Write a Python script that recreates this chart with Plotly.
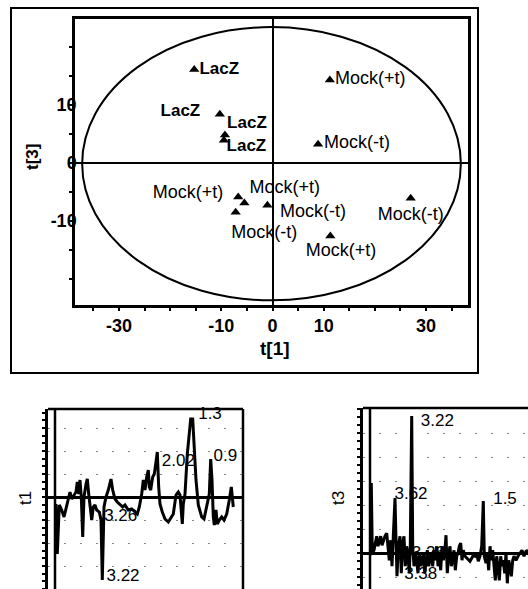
import plotly.graph_objects as go

# ---------------- Score plot data (t[1] vs t[3]) ----------------
score_t1 = [-15.3, -10.3, -9.3, -9.5, 11.2, 8.9, -6.7, -5.5, -7.2, -1.0, 27.0, 11.3]
score_t3 = [16.1, 8.4, 4.8, 3.9, 14.3, 3.2, -5.9, -6.9, -8.5, -7.3, -6.1, -12.6]

lacz_labels = ["LacZ", "LacZ", "LacZ", "LacZ"]
lacz_label_t1 = [-10.4, -18.0, -5.0, -5.1]
lacz_label_t3 = [16.1, 8.8, 6.8, 2.8]

mock_labels = ["Mock(+t)", "Mock(-t)", "Mock(+t)", "Mock(+t)", "Mock(-t)", "Mock(-t)", "Mock(-t)", "Mock(+t)"]
mock_label_t1 = [19.1, 16.5, -16.5, 2.4, 7.9, 27.0, -1.6, 13.4]
mock_label_t3 = [14.3, 3.3, -5.2, -4.5, -8.6, -9.0, -12.2, -15.2]

# Hotelling ellipse extent
ell_t1 = [-37.2, 36.8]
ell_t3 = [-23.7, 23.4]

x_tickvals = list(range(-35, 40, 5))
x_ticktext = ["-30" if v == -30 else "-10" if v == -10 else "0" if v == 0 else "10" if v == 10 else "30" if v == 30 else "" for v in x_tickvals]
y_tickvals = list(range(-20, 25, 5))
y_ticktext = ["10" if v == 10 else "0" if v == 0 else "-10" if v == -10 else "" for v in y_tickvals]

# ---------------- Loading line t1 ----------------
p1_var = [1.0, 2.3, 4.3, 6.7, 9.0, 11.0, 13.3, 15.0, 16.7, 19.0, 21.0, 22.3, 23.7, 25.0, 26.3, 27.7, 29.0,
          31.0, 32.3, 33.7, 35.0, 36.7, 38.3, 40.0, 41.7, 44.3, 46.0, 47.3, 49.0, 51.0, 53.3, 56.0, 57.7,
          60.0, 62.3, 65.0, 67.7, 70.0, 73.3, 76.7, 80.0, 82.3, 84.3, 86.7, 88.3, 90.0, 91.7, 93.3, 94.3,
          95.7, 97.7, 99.3, 101.0, 102.3, 103.7, 105.0, 107.3, 110.0, 113.3, 116.7, 118.3, 121.0, 123.3,
          125.0, 127.3, 128.3, 130.0, 132.3, 134.3, 135.7, 137.7, 139.3, 141.0, 143.3, 146.7, 149.0, 151.7,
          154.3, 155.7, 157.0, 158.3, 159.3, 161.0, 162.3, 164.3, 166.7, 169.0, 171.7, 174.3, 176.3, 178.3]
p1_load = [-0.07, -0.57, -0.08, -0.13, -0.20, -0.12, -0.03, 0.05, -0.02, 0.02, 0.05, 0.15, 0.03, 0.17, 0.0,
           -0.40, 0.0, 0.13, 0.18, 0.03, -0.10, -0.23, -0.10, -0.08, -0.13, -0.15, -0.23, -0.83, -0.10, 0.0,
           0.07, 0.18, 0.07, -0.02, -0.05, -0.08, -0.10, -0.08, -0.13, -0.12, -0.15, -0.17, -0.10, 0.03,
           0.17, 0.07, 0.20, 0.27, 0.10, 0.07, 0.20, 0.23, 0.35, 0.45, 0.10, -0.07, -0.15, -0.22, -0.25,
           -0.20, -0.17, 0.02, 0.05, 0.02, -0.27, -0.07, 0.03, 0.43, 0.67, 0.78, 0.78, 0.50, 0.17, -0.08,
           -0.20, -0.22, -0.10, 0.03, 0.38, 0.17, -0.20, -0.28, -0.13, -0.27, -0.23, -0.20, -0.23, -0.17,
           -0.03, 0.10, -0.10]
p1_peak_labels = ["1.3", "2.02", "0.9", "3.26", "3.22"]
p1_peak_var = [155.0, 123.3, 170.3, 65.7, 68.0]
p1_peak_load = [0.82, 0.353, 0.403, -0.197, -0.797]

# ---------------- Loading line t3 ----------------
p3_var = [0.7, 1.3, 2.3, 4.0, 5.3, 6.7, 8.0, 9.3, 10.7, 12.0, 13.3, 15.0, 16.7, 18.0, 19.3, 20.7, 22.0, 23.3,
          25.0, 26.0, 27.0, 28.3, 30.0, 31.3, 32.7, 34.0, 35.3, 36.7, 38.0, 39.3, 40.3, 41.7, 42.7, 44.0,
          45.3, 46.7, 48.0, 49.3, 50.7, 52.0, 53.3, 54.7, 56.0, 57.3, 58.7, 60.0, 61.3, 62.7, 64.0, 65.3,
          66.7, 68.0, 69.3, 70.7, 72.0, 73.3, 74.7, 76.0, 77.3, 78.7, 80.0, 81.3, 82.7, 84.0, 85.3, 86.7,
          88.0, 89.3, 90.7, 92.0, 93.3, 95.0, 96.7, 98.3, 100.0, 101.7, 103.3, 105.0, 106.7, 108.3, 110.0,
          111.7, 113.3, 114.3, 116.0, 117.3, 118.7, 120.0, 121.3, 122.7, 124.0, 125.3, 126.7, 128.0, 129.3,
          130.7, 132.0, 133.3, 134.7, 136.0, 137.3, 138.7, 140.0, 141.3, 142.7, 144.0, 146.0, 148.0, 150.0,
          152.0, 154.0, 156.0, 158.0]
p3_load = [-0.02, 0.70, 0.0, 0.03, 0.10, 0.17, 0.07, 0.13, 0.17, 0.08, 0.13, 0.17, 0.20, 0.07, -0.07, 0.13,
           -0.13, 0.17, 0.55, 0.13, -0.23, 0.07, 0.17, -0.20, 0.10, 0.17, -0.13, 0.07, -0.03, -0.20, 0.07,
           1.37, 0.07, -0.13, 0.0, -0.07, -0.20, 0.0, -0.13, -0.07, 0.0, -0.20, -0.07, 0.03, -0.13, -0.07,
           0.0, -0.13, 0.03, -0.07, 0.07, -0.13, 0.0, -0.17, 0.07, -0.07, 0.0, 0.18, -0.20, 0.0, 0.07,
           -0.13, -0.07, 0.03, -0.17, -0.03, 0.0, 0.07, 0.10, -0.07, 0.03, -0.03, -0.05, -0.07, -0.08,
           -0.05, -0.02, -0.03, 0.0, -0.08, -0.03, 0.07, 0.52, -0.03, -0.10, 0.0, -0.17, 0.07, -0.07, 0.03,
           -0.10, -0.27, -0.03, -0.13, -0.27, -0.03, -0.13, -0.07, -0.20, 0.0, -0.30, -0.07, -0.13, -0.23,
           -0.07, -0.03, -0.07, -0.03, 0.0, 0.03, -0.03, 0.02, 0.03]
p3_peak_labels = ["3.22", "3.62", "1.5", "3.26", "3.38"]
p3_peak_var = [67.3, 41.0, 135.0, 58.3, 50.7]
p3_peak_load = [1.316, 0.583, 0.533, -0.007, -0.217]

W, H = 528, 589
FONT = "Liberation Sans"
BLACK = "black"

fig = go.Figure()

# score plot
fig.add_trace(go.Scatter(x=score_t1, y=score_t3, mode="markers",
                         marker=dict(symbol="triangle-up", size=9, color=BLACK),
                         xaxis="x", yaxis="y", cliponaxis=False))
fig.add_trace(go.Scatter(x=lacz_label_t1, y=lacz_label_t3, mode="text", text=lacz_labels,
                         textposition="middle center",
                         textfont=dict(family=FONT, size=17, color=BLACK, weight="bold"),
                         xaxis="x", yaxis="y"))
fig.add_trace(go.Scatter(x=mock_label_t1, y=mock_label_t3, mode="text", text=mock_labels,
                         textposition="middle center",
                         textfont=dict(family=FONT, size=18, color=BLACK),
                         xaxis="x", yaxis="y"))

# loading lines
fig.add_trace(go.Scatter(x=p1_var, y=p1_load, mode="lines", line=dict(color=BLACK, width=3),
                         xaxis="x2", yaxis="y2"))
fig.add_trace(go.Scatter(x=p1_peak_var, y=p1_peak_load, mode="text", text=p1_peak_labels,
                         textfont=dict(family=FONT, size=17, color=BLACK),
                         xaxis="x2", yaxis="y2", cliponaxis=False))
fig.add_trace(go.Scatter(x=p3_var, y=p3_load, mode="lines", line=dict(color=BLACK, width=3),
                         xaxis="x3", yaxis="y3"))
fig.add_trace(go.Scatter(x=p3_peak_var, y=p3_peak_load, mode="text", text=p3_peak_labels,
                         textfont=dict(family=FONT, size=17, color=BLACK),
                         xaxis="x3", yaxis="y3", cliponaxis=False))

tickfont_bold = dict(family=FONT, size=18, color=BLACK, weight="bold")

small_axis_y = dict(showline=True, linewidth=2.5, linecolor=BLACK, ticks="outside", ticklen=3,
                    tickwidth=2, tickcolor=BLACK, showticklabels=False, tick0=0,
                    showgrid=True, gridcolor="#888888", gridwidth=1, griddash="2px,14px",
                    zeroline=True, zerolinecolor=BLACK, zerolinewidth=2.5)
small_axis_x = dict(showline=False, showticklabels=False, ticks="", showgrid=False, zeroline=False)

fig.update_layout(
    width=W, height=H, margin=dict(l=0, r=0, t=0, b=0),
    paper_bgcolor="white", plot_bgcolor="white", showlegend=False,
    xaxis=dict(domain=[75 / W, 468 / W], range=[-38.6, 38.2], anchor="y",
               tickmode="array", tickvals=x_tickvals, ticktext=x_ticktext,
               ticks="outside", ticklen=3, tickwidth=2, tickcolor=BLACK,
               tickfont=tickfont_bold, showline=True, linewidth=2.5, linecolor=BLACK, mirror=True,
               showgrid=False, zeroline=True, zerolinecolor=BLACK, zerolinewidth=2),
    yaxis=dict(domain=[1 - 305 / H, 1 - 19 / H], range=[-24.5, 24.8], anchor="x",
               tickmode="array", tickvals=y_tickvals, ticktext=y_ticktext,
               ticks="outside", ticklen=3, tickwidth=2, tickcolor=BLACK,
               tickfont=tickfont_bold, showline=True, linewidth=2.5, linecolor=BLACK, mirror=True,
               showgrid=False, zeroline=True, zerolinecolor=BLACK, zerolinewidth=2,
               ticklabelstandoff=-11),
    xaxis2=dict(domain=[48 / W, 243 / W], range=[-7, 188], anchor="y2", **small_axis_x),
    yaxis2=dict(domain=[0, 1 - 409 / H], range=[-0.92, 0.88], anchor="x2", dtick=0.23,
                minor=dict(dtick=0.23 / 3, ticks="outside", ticklen=3, tickwidth=2, tickcolor=BLACK,
                           showgrid=False),
                **small_axis_y),
    xaxis3=dict(domain=[363 / W, 1], range=[-7, 158], anchor="y3", **small_axis_x),
    yaxis3=dict(domain=[0, 1 - 408 / H], range=[-0.357, 1.45], anchor="x3", dtick=0.24,
                minor=dict(dtick=0.08, ticks="outside", ticklen=3, tickwidth=2, tickcolor=BLACK,
                           showgrid=False),
                **small_axis_y),
)

shapes = [
    # ellipse
    dict(type="circle", xref="x", yref="y", x0=ell_t1[0], x1=ell_t1[1], y0=ell_t3[0], y1=ell_t3[1],
         line=dict(color=BLACK, width=2)),
    # outer frame around score plot
    dict(type="rect", xref="paper", yref="paper", x0=11 / W, x1=478 / W, y0=1 - 373 / H, y1=1 - 8 / H,
         line=dict(color=BLACK, width=2)),
    # left loading panel borders
    dict(type="line", xref="x2", yref="y2 domain", x0=0, x1=0, y0=0, y1=1, line=dict(color=BLACK, width=2.5)),
    dict(type="line", xref="x2 domain", yref="y2 domain", x0=0, x1=1, y0=1, y1=1, line=dict(color=BLACK, width=2.5)),
    dict(type="line", xref="x2 domain", yref="y2 domain", x0=1, x1=1, y0=0, y1=1, line=dict(color=BLACK, width=2.5)),
    # right loading panel borders
    dict(type="line", xref="x3", yref="y3 domain", x0=0, x1=0, y0=0, y1=1, line=dict(color=BLACK, width=2.5)),
    dict(type="line", xref="x3 domain", yref="y3 domain", x0=0, x1=1, y0=1, y1=1, line=dict(color=BLACK, width=2.5)),
]
fig.update_layout(shapes=shapes)

annotations = [
    dict(text="t[1]", xref="paper", yref="paper", x=275 / W, y=1 - 348 / H, showarrow=False,
         xanchor="center", yanchor="middle",
         font=dict(family=FONT, size=19, color=BLACK, weight="bold")),
    dict(text="t[3]", xref="paper", yref="paper", x=33 / W, y=1 - 157 / H, showarrow=False, textangle=-90,
         xanchor="center", yanchor="middle",
         font=dict(family=FONT, size=17, color=BLACK, weight="bold")),
    dict(text="t1", xref="paper", yref="paper", x=25 / W, y=1 - 498 / H, showarrow=False, textangle=-90,
         xanchor="center", yanchor="middle",
         font=dict(family=FONT, size=17, color=BLACK)),
    dict(text="t3", xref="paper", yref="paper", x=338 / W, y=1 - 498 / H, showarrow=False, textangle=-90,
         xanchor="center", yanchor="middle",
         font=dict(family=FONT, size=17, color=BLACK)),
]
fig.update_layout(annotations=annotations)

fig.write_html("out.html")
